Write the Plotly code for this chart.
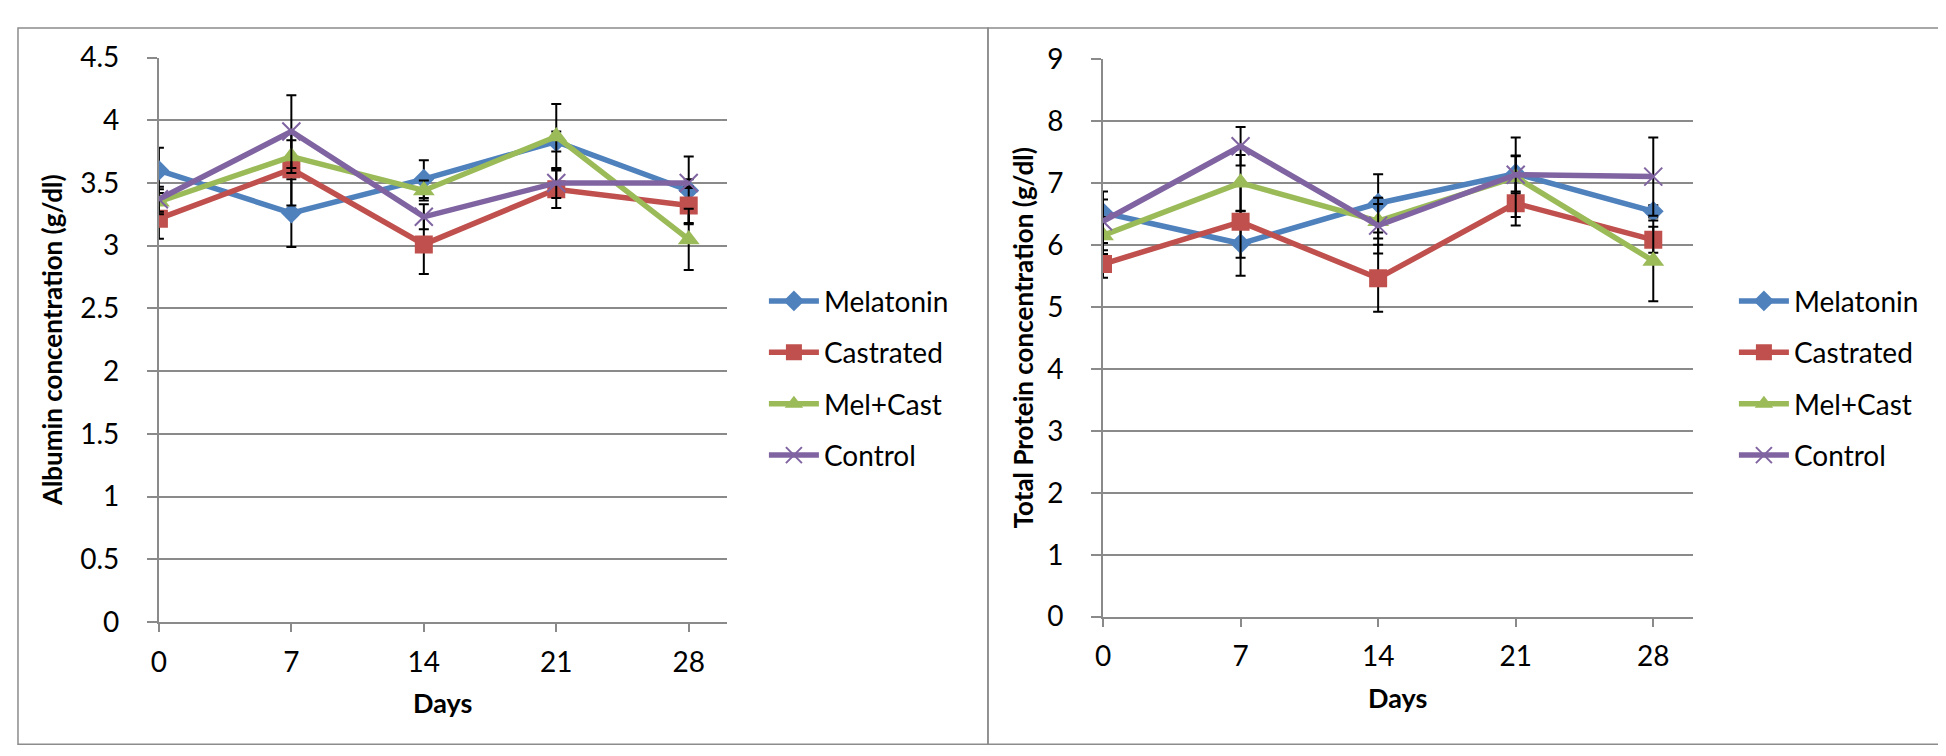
import plotly.graph_objects as go

days = [0, 7, 14, 21, 28]
series_names = ["Melatonin", "Castrated", "Mel+Cast", "Control"]

# Albumin concentration (g/dl)
alb_melatonin = [3.60, 3.26, 3.53, 3.83, 3.44]
alb_castrated = [3.215, 3.61, 3.01, 3.45, 3.32]
alb_melcast = [3.35, 3.71, 3.44, 3.87, 3.05]
alb_control = [3.37, 3.91, 3.23, 3.50, 3.50]
alb_err_melatonin = [0.18, 0.27, 0.15, 0.08, 0.27]
alb_err_castrated = [0.16, 0.29, 0.235, 0.15, 0.14]
alb_err_melcast = [0.10, 0.13, 0.08, 0.26, 0.245]
alb_err_control = [0.10, 0.29, 0.10, 0.12, 0.03]

# Total protein concentration (g/dl)
tp_melatonin = [6.52, 6.02, 6.67, 7.15, 6.54]
tp_castrated = [5.69, 6.37, 5.46, 6.67, 6.08]
tp_melcast = [6.15, 7.00, 6.38, 7.09, 5.74]
tp_control = [6.38, 7.59, 6.31, 7.13, 7.10]
tp_err_melatonin = [0.34, 0.52, 0.47, 0.29, 0.10]
tp_err_castrated = [0.22, 0.58, 0.54, 0.36, 0.21]
tp_err_melcast = [0.30, 0.45, 0.28, 0.64, 0.65]
tp_err_control = [0.35, 0.31, 0.45, 0.30, 0.63]

y_ticks_alb = [0, 0.5, 1, 1.5, 2, 2.5, 3, 3.5, 4, 4.5]
y_ticks_tp = [0, 1, 2, 3, 4, 5, 6, 7, 8, 9]

colors = ["#4F81BD", "#C0504D", "#9BBB59", "#8064A2"]
symbols = ["diamond", "square", "triangle-up", "x-thin"]
sizes = [16, 18, 19, 18]

FONT = "Lato"
GRID = "#8A8A8A"

alb_vals = [alb_melatonin, alb_castrated, alb_melcast, alb_control]
alb_errs = [alb_err_melatonin, alb_err_castrated, alb_err_melcast, alb_err_control]
tp_vals = [tp_melatonin, tp_castrated, tp_melcast, tp_control]
tp_errs = [tp_err_melatonin, tp_err_castrated, tp_err_melcast, tp_err_control]

fig = go.Figure()


def add_series(vals, errs, xa, ya, legend_name, suffix):
    for i, name in enumerate(series_names):
        marker = dict(symbol=symbols[i], size=sizes[i], color=colors[i])
        if symbols[i] == "x-thin":
            marker["line"] = dict(color=colors[i], width=2)
        fig.add_trace(go.Scatter(
            x=days, y=vals[i], name=name, mode="lines+markers",
            xaxis=xa, yaxis=ya, legend=legend_name,
            legendgroup=name + suffix,
            line=dict(color=colors[i], width=5.5),
            marker=marker,
            error_y=dict(type="data", array=errs[i], visible=True,
                         color="black", thickness=2, width=5),
        ))


add_series(alb_vals, alb_errs, "x", "y", "legend", "a")
add_series(tp_vals, tp_errs, "x2", "y2", "legend2", "b")

W, H = 1946, 756

common_x = dict(range=[0, 30], tickvals=days, ticktext=[str(d) for d in days],
                showgrid=False, zeroline=False, showline=True, linecolor=GRID,
                linewidth=2, ticks="outside", ticklen=8, tickcolor=GRID, tickwidth=1.5,
                tickfont=dict(family=FONT, size=28, color="black"),
                ticklabelstandoff=6,
                title=dict(text="<b>Days</b>", font=dict(family=FONT, size=27, color="black"),
                           standoff=18))

common_y = dict(showgrid=True, gridcolor=GRID, gridwidth=2, zeroline=False,
                showline=True, linecolor=GRID, linewidth=2,
                ticks="outside", ticklen=10, tickcolor=GRID, tickwidth=2,
                tickfont=dict(family=FONT, size=28, color="black"),
                ticklabelstandoff=22)

fig.update_layout(
    width=W, height=H, autosize=False,
    margin=dict(l=0, r=0, t=0, b=0),
    paper_bgcolor="white", plot_bgcolor="white",
    xaxis=dict(domain=[143.5 / W, 713.5 / W], anchor="y", **common_x),
    yaxis=dict(domain=[(H - 624) / H, (H - 33) / H], anchor="x", range=[0, 4.5],
               tickvals=y_ticks_alb, ticktext=[f"{v:g}" for v in y_ticks_alb],
               title=dict(text="<b>Albumin concentration (g/dl)</b>",
                          font=dict(family=FONT, size=26, color="black"), standoff=10),
               **common_y),
    xaxis2=dict(domain=[1091.5 / W, 1683.5 / W], anchor="y2", **common_x),
    yaxis2=dict(domain=[(H - 618.5) / H, (H - 34.4) / H], anchor="x2", range=[0, 9],
                tickvals=y_ticks_tp, ticktext=[str(v) for v in y_ticks_tp],
                title=dict(text="<b>Total Protein concentration (g/dl)</b>",
                           font=dict(family=FONT, size=26, color="black"), standoff=6),
                **common_y),
    legend=dict(x=751 / W, xanchor="left", y=(H - 262) / H, yanchor="top",
                font=dict(family=FONT, size=28, color="black"),
                traceorder="grouped", tracegroupgap=12, itemwidth=50,
                bgcolor="rgba(0,0,0,0)"),
    legend2=dict(x=1725 / W, xanchor="left", y=(H - 262) / H, yanchor="top",
                 font=dict(family=FONT, size=28, color="black"),
                 traceorder="grouped", tracegroupgap=12, itemwidth=50,
                 bgcolor="rgba(0,0,0,0)"),
    shapes=[
        dict(type="rect", xref="paper", yref="paper", x0=2 / W, x1=976 / W,
             y0=(H - 752) / H, y1=(H - 2) / H, line=dict(color="#8C8C8C", width=1.5)),
        dict(type="rect", xref="paper", yref="paper", x0=976 / W, x1=1943 / W,
             y0=(H - 752) / H, y1=(H - 2) / H, line=dict(color="#8C8C8C", width=1.5)),
    ],
)

fig.write_html("out.html")
